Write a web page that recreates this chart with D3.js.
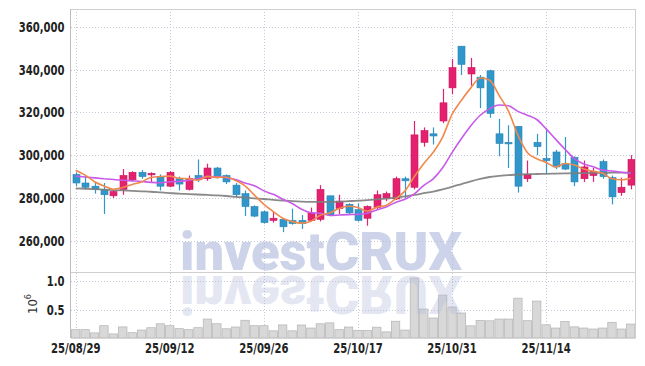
<!DOCTYPE html>
<html>
<head>
<meta charset="utf-8">
<script src="https://cdn.jsdelivr.net/npm/d3@7"></script>
<style>
  body { margin: 0; background: #fff; }
  svg { display: block; }
  .axis text { font-family: "DejaVu Sans Condensed", "DejaVu Sans", sans-serif; font-size: 14px; font-weight: bold; fill: #222; }
</style>
</head>
<body>
<svg width="645" height="366"></svg>
<script>
// trading days shown (KRX, Chuseok break in early October)
var dates = [
  "2025-08-29",
  "2025-09-01", "2025-09-02", "2025-09-03", "2025-09-04", "2025-09-05",
  "2025-09-08", "2025-09-09", "2025-09-10", "2025-09-11", "2025-09-12",
  "2025-09-15", "2025-09-16", "2025-09-17", "2025-09-18", "2025-09-19",
  "2025-09-22", "2025-09-23", "2025-09-24", "2025-09-25", "2025-09-26",
  "2025-09-29", "2025-09-30", "2025-10-01", "2025-10-02", "2025-10-10",
  "2025-10-13", "2025-10-14", "2025-10-15", "2025-10-16", "2025-10-17",
  "2025-10-20", "2025-10-21", "2025-10-22", "2025-10-23", "2025-10-24",
  "2025-10-27", "2025-10-28", "2025-10-29", "2025-10-30", "2025-10-31",
  "2025-11-03", "2025-11-04", "2025-11-05", "2025-11-06", "2025-11-07",
  "2025-11-10", "2025-11-11", "2025-11-12", "2025-11-13", "2025-11-14",
  "2025-11-17", "2025-11-18", "2025-11-19", "2025-11-20", "2025-11-21",
  "2025-11-24", "2025-11-25", "2025-11-26", "2025-11-27"
];

var opens = [
  291000, 287000, 285500, 284000, 281000, 284000, 288500, 292000, 291000, 290000,
  285500, 289000, 284000, 290500, 289000, 294000, 290500, 286000, 282000, 276000,
  273500, 269500, 270000, 269500, 269500, 269500, 270000, 281000, 275000, 277000,
  274500, 270500, 275500, 280000, 279500, 289000, 285000, 306000, 310000, 316000,
  331500, 351000, 338000, 336500, 339500, 310000, 306000, 313500, 289000, 306000,
  298500, 301500, 296000, 299000, 289000, 290500, 297000, 289500, 282500, 286000
];
var highs = [
  292000, 290500, 287000, 287000, 283500, 293500, 292500, 293000, 292000, 291000,
  292500, 290000, 290500, 298000, 296000, 294500, 291000, 287000, 283500, 276500,
  274000, 273500, 270500, 275000, 272000, 275500, 286000, 281000, 281500, 277500,
  277500, 276500, 283500, 283000, 290000, 290000, 316000, 313000, 313000, 331000,
  345000, 351000, 345500, 337500, 340000, 317000, 314000, 313500, 297500, 310000,
  312500, 302500, 308500, 299500, 297500, 294000, 298000, 290500, 289500, 300000
];
var lows = [
  285500, 284000, 282000, 272500, 280000, 281500, 288000, 289000, 287500, 283500,
  285000, 283500, 283500, 287500, 288000, 289000, 286500, 280500, 271500, 271000,
  268000, 268500, 264000, 267500, 265500, 269000, 269000, 271500, 272500, 272500,
  269000, 267000, 274500, 278500, 279000, 280000, 284000, 304000, 305000, 315000,
  328500, 337500, 332500, 322000, 317500, 299500, 294000, 282500, 287500, 300000,
  291500, 293500, 293000, 285500, 287500, 287500, 289000, 277000, 281000, 284000
];
var closes = [
  287000, 285000, 284000, 281500, 283000, 290500, 292000, 290000, 291500, 285500,
  292000, 286500, 289000, 288500, 294000, 290000, 287500, 281500, 276000, 271500,
  268500, 270500, 266500, 268000, 268000, 273000, 284000, 272000, 278500, 273000,
  269500, 276000, 281500, 282000, 289000, 288000, 309500, 311500, 309000, 324500,
  341000, 342500, 341000, 331500, 319500, 305500, 305500, 285500, 291000, 304000,
  297500, 294500, 293500, 287500, 294500, 292500, 290000, 280500, 285000, 298000
];
var volumes = [
  146000, 146000, 90000, 216000, 72000, 195000, 93000, 140000, 180000, 250000,
  216000, 164000, 146000, 181000, 333000, 250000, 162000, 193000, 312000, 216000,
  216000, 126000, 230000, 126000, 228000, 175000, 250000, 266000, 146000, 193000,
  135000, 135000, 190000, 108000, 295000, 140000, 1055000, 509000, 351000, 754000,
  544000, 439000, 214000, 310000, 302000, 333000, 333000, 700000, 304000, 649000,
  232000, 175000, 290000, 196000, 175000, 158000, 175000, 276000, 158000, 245000
];

// moving averages as drawn (5, 10, 60 days)
var ma5 = [
  293000, 290700, 287600, 285600, 284100, 284900, 286300, 287500, 289600, 290000,
  290200, 289200, 289000, 288300, 290100, 289600, 289700, 288200, 285700, 281300,
  277000, 273600, 270500, 269000, 268200, 269100, 271900, 273000, 275100, 276100,
  275500, 273800, 275700, 276500, 279600, 283300, 290000, 296100, 301400, 308500,
  319100, 325700, 331500, 336100, 335100, 328000, 320600, 309400, 301300, 298300,
  296600, 294500, 296100, 295400, 293500, 292500, 291600, 289000, 288500, 289200
];
var ma10 = [
  290200, 289800, 289400, 289000, 288600, 288300, 288000, 287700, 287300, 287100,
  287600, 287700, 288300, 289000, 290000, 289900, 289500, 288600, 287000, 285700,
  283300, 281700, 279400, 277400, 274700, 273100, 272800, 271800, 272000, 272200,
  272300, 272800, 274400, 275800, 277900, 279400, 281900, 285900, 288900, 294100,
  301200, 307800, 313800, 318700, 321800, 323500, 323100, 320500, 318700, 316700,
  312300, 307500, 302800, 298400, 295900, 294600, 293000, 292600, 292000, 291400
];
var ma60 = [
  284500, 284300, 284100, 283900, 283700, 283500, 283300, 283100, 282900, 282600,
  282300, 282000, 281800, 281600, 281400, 281200, 280900, 280500, 280100, 279800,
  279500, 279100, 278800, 278500, 278300, 278200, 278200, 278200, 278300, 278500,
  278700, 279000, 279300, 279700, 280100, 280700, 281400, 282200, 283000, 284000,
  285200, 286500, 287800, 288900, 289800, 290300, 290700, 290900, 291100, 291200,
  291300, 291400, 291500, 291600, 291600, 291700, 291700, 291800, 291800, 291900
];

var priceTicks = [260000, 280000, 300000, 320000, 340000, 360000];
var volumeTicks = [500000, 1000000];
var dateTicks = ["2025-08-29", "2025-09-12", "2025-09-26", "2025-10-17", "2025-10-31", "2025-11-14"];

var svg = d3.select("svg");
var plotLeft = 71, plotRight = 635.5, plotTop = 9, plotSplit = 272, plotBottom = 338;

var x = d3.scaleBand().domain(dates).range([plotLeft, plotRight]);
var bw = x.bandwidth();
function cx(d) { return x(d) + bw / 2; }

var y = d3.scaleLinear().domain([245350, 368400]).range([plotSplit, plotTop]);
var yv = d3.scaleLinear().domain([0, 1160000]).range([plotBottom, plotSplit]);

var parse = d3.timeParse("%Y-%m-%d");
var fmtDate = d3.timeFormat("%y/%m/%d");

svg.append("rect").attr("width", 645).attr("height", 366).attr("fill", "#fff");

// grid
var grid = svg.append("g")
  .attr("stroke", "#c4c9da")
  .attr("stroke-width", 1)
  .attr("stroke-dasharray", "1,2");

grid.selectAll("line.h")
  .data(priceTicks)
  .enter().append("line")
  .attr("x1", plotLeft).attr("x2", plotRight)
  .attr("y1", function(d) { return Math.round(y(d)) + 0.5; })
  .attr("y2", function(d) { return Math.round(y(d)) + 0.5; });

grid.selectAll("line.hv")
  .data(volumeTicks)
  .enter().append("line")
  .attr("x1", plotLeft).attr("x2", plotRight)
  .attr("y1", function(d) { return Math.round(yv(d)) + 0.5; })
  .attr("y2", function(d) { return Math.round(yv(d)) + 0.5; });

grid.selectAll("line.v")
  .data(dateTicks)
  .enter().append("line")
  .attr("x1", function(d) { return Math.round(cx(d)) + 0.5; })
  .attr("x2", function(d) { return Math.round(cx(d)) + 0.5; })
  .attr("y1", plotTop).attr("y2", plotBottom);

// volume bars
svg.append("g")
  .selectAll("rect")
  .data(dates)
  .enter().append("rect")
  .attr("x", function(d) { return x(d) + 0.5; })
  .attr("width", bw - 1)
  .attr("y", function(d, i) { return yv(volumes[i]); })
  .attr("height", function(d, i) { return plotBottom - yv(volumes[i]); })
  .attr("fill", "#d8d8d8")
  .attr("stroke", "#b3b3b3")
  .attr("stroke-width", 0.7);

// candles
var upColor = "#e4216f", downColor = "#3196ca";
var candle = svg.append("g")
  .selectAll("g")
  .data(dates)
  .enter().append("g");

candle.append("line")
  .attr("x1", function(d) { return Math.round(cx(d)) + 0.5; })
  .attr("x2", function(d) { return Math.round(cx(d)) + 0.5; })
  .attr("y1", function(d, i) { return y(highs[i]); })
  .attr("y2", function(d, i) { return y(lows[i]); })
  .attr("stroke", function(d, i) { return closes[i] >= opens[i] ? upColor : downColor; })
  .attr("stroke-width", 1.2);

candle.append("rect")
  .attr("x", function(d) { return Math.round(cx(d)) + 0.5 - 3.5; })
  .attr("width", 7)
  .attr("y", function(d, i) { return y(Math.max(opens[i], closes[i])); })
  .attr("height", function(d, i) { return Math.max(1.5, Math.abs(y(opens[i]) - y(closes[i]))); })
  .attr("fill", function(d, i) { return closes[i] >= opens[i] ? upColor : downColor; })
  .attr("stroke", function(d, i) { return closes[i] >= opens[i] ? "#c9155d" : "#2a85b4"; })
  .attr("stroke-width", 0.6);

// moving averages
var line = d3.line()
  .x(function(d, i) { return cx(dates[i]); })
  .y(function(d) { return y(d); })
  .curve(d3.curveMonotoneX);

svg.append("path").datum(ma60).attr("d", line)
  .attr("fill", "none").attr("stroke", "#7d7d7d").attr("stroke-width", 1.8).attr("stroke-opacity", 0.9);
svg.append("path").datum(ma10).attr("d", line)
  .attr("fill", "none").attr("stroke", "#c95ae9").attr("stroke-width", 1.6);
svg.append("path").datum(ma5).attr("d", line)
  .attr("fill", "none").attr("stroke", "#f0894c").attr("stroke-width", 1.6);

// watermark with reflection
var mark = svg.append("g").attr("font-family", "Roboto, Liberation Sans, sans-serif")
  .attr("font-weight", 900).attr("font-size", 53);
mark.append("text")
  .attr("x", 180).attr("y", 270)
  .attr("textLength", 282).attr("lengthAdjust", "spacingAndGlyphs")
  .attr("fill", "#b2bbdb").attr("fill-opacity", 0.65)
  .text("investCRUX");
mark.append("text")
  .attr("transform", "translate(0,546) scale(1,-1)")
  .attr("x", 180).attr("y", 270)
  .attr("textLength", 282).attr("lengthAdjust", "spacingAndGlyphs")
  .attr("fill", "#b2bbdb").attr("fill-opacity", 0.35)
  .text("investCRUX");

// frame
var frame = svg.append("g").attr("stroke", "#cfcfcf").attr("stroke-width", 1);
frame.append("line").attr("x1", plotLeft).attr("x2", plotRight).attr("y1", plotTop + 0.5).attr("y2", plotTop + 0.5);
frame.append("line").attr("x1", plotLeft).attr("x2", plotRight).attr("y1", plotSplit + 0.5).attr("y2", plotSplit + 0.5);
frame.append("line").attr("x1", plotRight).attr("x2", plotRight).attr("y1", plotTop).attr("y2", plotBottom);
frame.append("line").attr("x1", plotLeft - 0.5).attr("x2", plotLeft - 0.5).attr("y1", plotTop).attr("y2", plotBottom)
  .attr("stroke", "#bdbdbd");
frame.append("line").attr("x1", plotLeft).attr("x2", plotRight).attr("y1", plotBottom + 0.5).attr("y2", plotBottom + 0.5)
  .attr("stroke", "#d6d6d6");

// axes
svg.append("g").attr("class", "axis")
  .attr("transform", "translate(" + plotLeft + ",0)")
  .call(d3.axisLeft(y).tickValues(priceTicks).tickFormat(d3.format(",")).tickSize(0).tickPadding(8));
svg.append("g").attr("class", "axis")
  .attr("transform", "translate(" + plotLeft + ",0)")
  .call(d3.axisLeft(yv).tickValues(volumeTicks)
    .tickFormat(function(d) { return d3.format(".1f")(d / 1e6); }).tickSize(0).tickPadding(8));
svg.append("g").attr("class", "axis")
  .attr("transform", "translate(0," + plotBottom + ")")
  .call(d3.axisBottom(x).tickValues(dateTicks)
    .tickFormat(function(d) { return fmtDate(parse(d)); }).tickSize(0).tickPadding(5));

svg.selectAll(".axis .domain").remove();
svg.selectAll(".axis text")
  .attr("font-family", null).attr("font-size", null)
  .attr("transform", "scale(0.8,1)");

// unit label of the volume axis
var unit = svg.append("text")
  .attr("transform", "translate(37,304) rotate(-90)")
  .attr("text-anchor", "middle")
  .attr("font-family", "DejaVu Sans Condensed, sans-serif")
  .attr("font-size", 13).attr("fill", "#333");
unit.append("tspan").text("10");
unit.append("tspan").attr("dy", -6).attr("font-size", 9).text("6");
</script>
</body>
</html>
